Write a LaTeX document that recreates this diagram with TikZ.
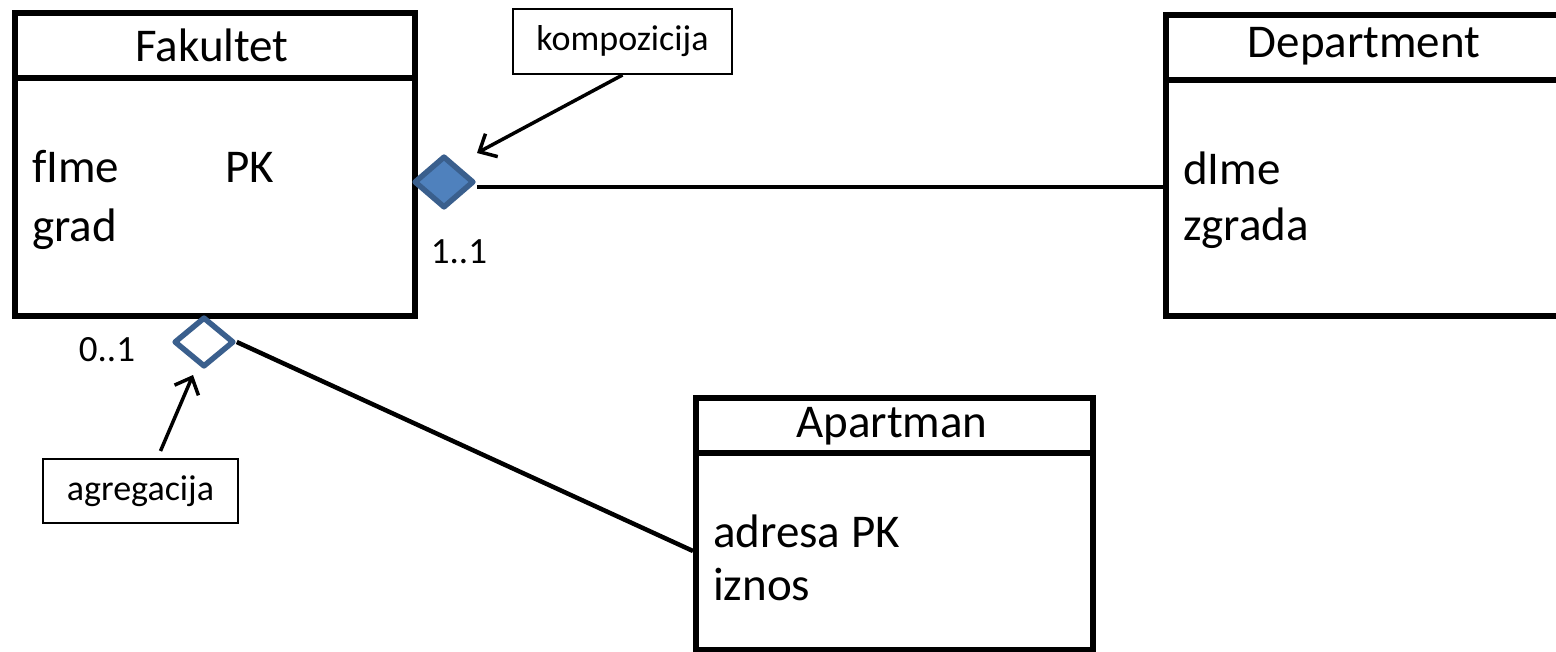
\documentclass[tikz,border=0pt]{standalone}
\usepackage{fontspec}
\setmainfont{Carlito}
\usetikzlibrary{arrows.meta,shapes.geometric}
\definecolor{umlblue}{HTML}{4F81BD}
\definecolor{umledge}{HTML}{3A5F8D}
\tikzset{
  classbox/.style={draw=black, line width=6pt, rectangle, inner sep=0pt, anchor=north west},
  divider/.style={line width=6pt},
  classtitle/.style={font=\fontsize{47}{56}\selectfont, inner sep=0pt},
  attr/.style={font=\fontsize{47}{56}\selectfont, inner sep=0pt, anchor=base west},
  notebox/.style={draw=black, line width=2pt, font=\fontsize{36}{43}\selectfont, inner sep=0pt},
  mult/.style={font=\fontsize{37}{44}\selectfont, inner sep=0pt},
  assoc/.style={line width=4.5pt},
  pointer/.style={line width=3.5pt, -{Straight Barb[length=14pt,width=26pt,line width=3.5pt]}},
  compo/.style={diamond, draw=umledge, fill=umlblue, line width=5.5pt, line join=round,
    minimum width=60pt, minimum height=52pt, inner sep=0pt},
  aggr/.style={diamond, draw=umledge, fill=white, line width=5.5pt, line join=round,
    minimum width=60pt, minimum height=50pt, inner sep=0pt},
}
\begin{document}
\begin{tikzpicture}[x=1pt, y=-1pt]
\useasboundingbox[fill=white] (0,0) rectangle (1556,652);
\clip (0,0) rectangle (1556,652);

% Fakultet
\node[classbox, minimum width=400pt, minimum height=303pt] (fak) at (12,10) {};
\draw[divider] (fak.north west) ++(0,68) -- ++(400,0);
\node[classtitle] (fakT) at (212,45) {Fakultet};
\node[attr] (fak1) at (32,183) {fIme};
\node[attr] (fak1k) at (225,183) {PK};
\node[attr] (fak2) at (32,242) {grad};

% Department
\node[classbox, minimum width=403pt, minimum height=301pt] (dep) at (1163,12) {};
\draw[divider] (dep.north west) ++(0,68) -- ++(403,0);
\node[classtitle] (depT) at (1364,46) {Department};
\node[attr] (dep1) at (1183,185) {dIme};
\node[attr] (dep2) at (1183,241) {zgrada};

% Apartman
\node[classbox, minimum width=397pt, minimum height=252pt] (apt) at (693,395) {};
\draw[divider] (apt.north west) ++(0,58) -- ++(397,0);
\node[classtitle] (aptT) at (892,426) {Apartman};
\node[attr] (apt1) at (713,547) {adresa PK};
\node[attr] (apt2) at (713,600) {iznos};

% composition Fakultet -- Department
\node[compo] (comp) at (444,182) {};
\draw[assoc] ([yshift=-5pt]comp.east) -- ([yshift=-5pt]comp.east -| dep.west);
\node[mult] (m11) at (459,252) {1..1};

% aggregation Fakultet -- Apartman
\node[aggr] (agg) at (204,342) {};
\draw[assoc] (agg.east) -- ([yshift=-27pt]apt.west);
\node[mult] (m01) at (107,350) {0..1};

% callouts
\node[notebox, minimum width=219pt, minimum height=65pt] (kom) at (622.5,41.5) {kompozicija};
\coordinate (komTip) at (477,153);
\draw[pointer] (kom.south) -- (komTip);

\node[notebox, minimum width=195pt, minimum height=64pt] (agr) at (140.5,491) {agregacija};
\coordinate (agrTip) at (193,375);
\draw[pointer] ([xshift=20pt]agr.north) ++(0,-7) -- (agrTip);
\end{tikzpicture}
\end{document}
